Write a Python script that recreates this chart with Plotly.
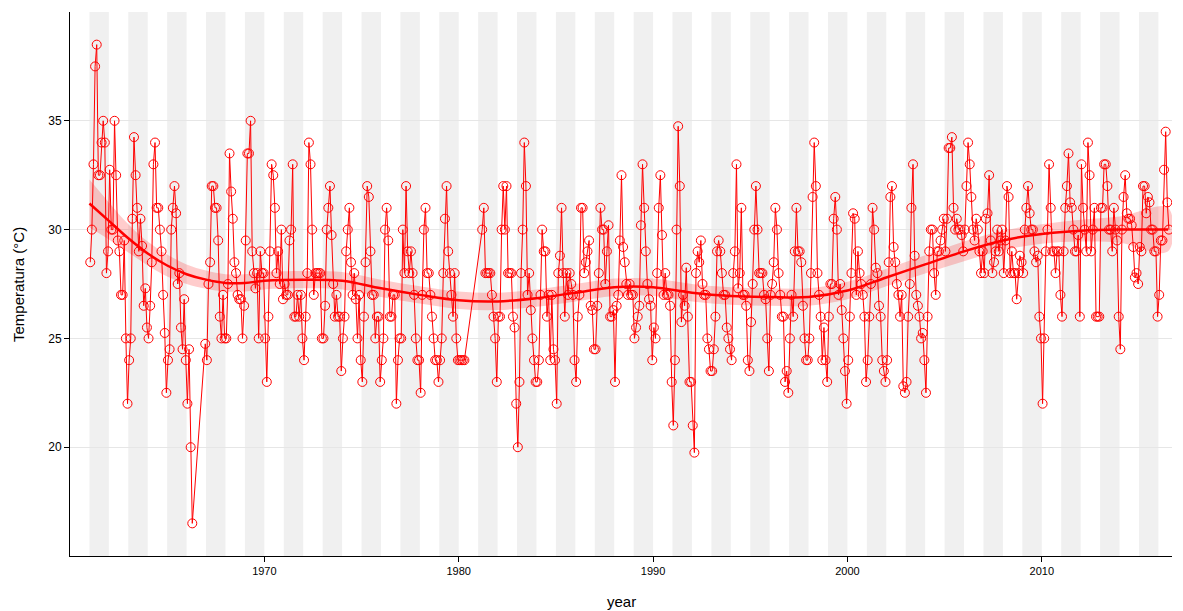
import plotly.graph_objects as go

# Monthly values (°C), one row of 12 per year; None = missing month
temps_1960s = [
    [28.5, 30, 33, 37.5, 38.5, 32.5, 32.5, 34, 35, 34, 28, 29],            # 1961
    [32.75, 30, 30, 35, 32.5, 29.5, 29, 27, 27, 29.5, 25, 22],            # 1962
    [24, 25, 30.5, 34.25, 32.5, 31, 29, 30.5, 29.25, 26.5, 27.3, 25.5],   # 1963
    [25, 26.5, 28.5, 33, 34, 31, 31, 30, 29, 27, 25.25, 22.5],            # 1964
    [24, 24.5, 30, 31, 32, 30.75, 27.5, 28, 25.5, 24.5, 26.8, 24],        # 1965
    [22, 24.5, 20, 16.5, None, None, None, None, None, None, None, 24.75],# 1966
    [24, 27.5, 28.5, 32, 32, 31, 31, 29.5, 26, 25, 27, 25],               # 1967
    [25, 27.5, 33.5, 31.75, 30.5, 28.5, 28, 27, 26.8, 26.8, 25, 26.5],    # 1968
    [29.5, 33.5, 33.5, 35, 29, 28, 27.3, 28, 25, 29, 28, 28],             # 1969
]
temps_1970s = [
    [25, 23, 26, 29, 33, 32.5, 31, 28, 29, 27.5, 30, 26.8],
    [27.5, 27, 27, 29.5, 30, 33, 26, 26, 27, 26, 27, 25],
    [24, 26, 28, 34, 33, 30, 27, 28, 28, 28, 28, 25],
    [25, 26.5, 30, 31, 32, 29.75, 27.5, 26, 27, 26, 26, 23.5],
    [25, 26, 29, 30, 31, 28.5, 27, 28, 26.8, 25, 27, 24],
    [23, 26, 28.5, 32, 31.5, 29, 27, 27, 25, 26, 26, 23],
    [24, 25, 30, 31, 29.5, 26, 26, 27, 27, 22, 24, 25],
    [25, 30, 28, 32, 29, 28, 29, 28, 27, 25, 24, 24],
    [22.5, 27, 30, 31, 28, 28, 27, 26, 25, 24, 24, 23],
    [24, 25, 28, 30.5, 32, 29, 28, 27, 26, 28, 25, 24],
]
temps_1980s = [
    [24, 24, 24, 24, None, None, None, None, None, None, None, None],
    [None, None, 30, 31, 28, 28, 28, 28, 27, 26, 25, 23],
    [26, 26, 30, 32, 30, 32, 28, 28, 28, 26, 25.5, 22],
    [20, 23, 28, 30, 34, 32, 27, 28, 26.3, 25, 24, 23],
    [23, 24, 27, 30, 29, 29, 26, 27, 24, 27, 24.5, 24],
    [22, 28, 28.8, 31, 28, 26, 28, 27, 28, 27.5, 27, 24],
    [23, 26, 27, 31, 31, 28, 28.5, 29, 29.5, 26.5, 26.3, 24.5],
    [24.5, 26.5, 28, 31, 30, 30, 27.5, 29, 30.2, 26, 26, 26.3],
    [23, 26.5, 27, 29.5, 32.5, 29.2, 28.5, 27.5, 27, 27.5, 27, 27],
    [25, 25.5, 26, 26.5, 30.2, 33, 31, 29, 27.5, 26.8, 26.5, 24],
]
temps_1990s = [
    [25.5, 25, 28, 31, 32.5, 29.75, 27, 28, 27, 27, 26.5, 23],
    [21, 24, 30, 34.75, 32, 25.75, 27, 26.5, 28.25, 26, 23, 23],
    [21, 19.75, 28, 29, 28.5, 29.5, 27.5, 27, 27, 25, 24.5, 23.5],
    [23.5, 24.5, 26, 29, 29.5, 29, 28, 27, 27, 25.5, 25, 24.5],
    [24, 28, 29, 33, 27.3, 28, 31, 27, 27, 26.5, 24, 23.5],
    [25.75, 27.5, 30, 32, 30, 28, 28, 28, 27, 26.8, 25, 23.5],
    [27, 27.5, 28.5, 31, 30, 28, 27, 26, 26, 23, 23.5, 22.5],
    [25, 27, 26, 29, 31, 29, 29, 28.5, 26.5, 25, 24, 24],
    [25, 28, 31.5, 34, 32, 28, 27, 26, 24, 25.5, 24, 23],
    [26, 27.5, 27.5, 30.5, 31.5, 30, 27, 27.5, 26.3, 25, 23.5, 22],
]
temps_2000s = [
    [24, 26, 28, 30.75, 30.5, 27, 29, 28, 27.5, 27, 26, 23],
    [24, 26, 27.5, 31, 30, 28.25, 28, 26.5, 26, 24, 23.5, 23],
    [24, 28.5, 31.5, 32, 29.2, 28.5, 27.5, 27, 26, 27, 22.8, 22.5],
    [23, 26, 27.5, 31, 33, 28.8, 27, 26.5, 26, 25, 25.25, 24],
    [22.5, 26, 29, 30, 30, 28, 27, 29, 29, 29.5, 30, 30.5],
    [29, 30.5, 33.75, 33.75, 34.25, 31, 30, 30.5, 30, 30, 29.75, 29],
    [30, 32, 34, 33, 31.5, 30, 29.5, 30.5, 30, 29, 28, 29],
    [28, 30.5, 30.75, 32.5, 29.5, 28, 28.5, 29, 30, 29, 29.5, 30],
    [28, 29.5, 32, 31.5, 28, 29, 28, 28, 26.8, 28, 28.8, 28.5],
    [28, 30, 31, 32, 30.75, 30, 30, 29, 28.5, 28.8, 26, 25],
]
temps_2010s = [
    [22, 25, 29, 30, 33, 31, 29, 29, 28, 29, 29, 27],
    [26, 29, 31, 32, 33.5, 31.25, 31, 30, 29, 29, 29.75, 26],
    [33, 31, 30, 29, 34, 32.5, 29, 30, 31, 26, 26, 26],
    [31, 31, 33, 33, 32, 30, 30, 29, 31, 30, 29.5, 26],
    [24.5, 30, 31.5, 32.5, 30.75, 30.5, 30.5, 30.2, 29.2, 27.8, 28, 27.5],
    [29.2, 29, 32, 32, 30.75, 31.5, 31.25, 30, 30, 29, 29, 26],
    [27, 29.5, 29.5, 32.75, 34.5, 31.25, 30],
]
first_years = [1961, 1970, 1980, 1990, 2000, 2010]

# Smoothed trend (loess) and its confidence half-width
smooth_year = [1961, 1962, 1963, 1964, 1965, 1966, 1967, 1968, 1969, 1970, 1972, 1974,
               1976, 1978, 1980, 1982, 1984, 1986, 1988, 1990, 1992, 1994, 1996, 1998,
               2000, 2002, 2004, 2006, 2008, 2010, 2012, 2014, 2016.5]
smooth_temp = [31.2, 30.4, 29.6, 28.9, 28.35, 27.95, 27.7, 27.55, 27.55, 27.65, 27.7, 27.65,
               27.3, 27.0, 26.75, 26.7, 26.85, 27.1, 27.35, 27.35, 27.1, 26.95, 26.9, 26.9,
               27.2, 27.8, 28.4, 29.0, 29.5, 29.8, 29.95, 30.0, 30.0]
smooth_se = [1.1, 0.85, 0.65, 0.55, 0.5, 0.45, 0.42, 0.4, 0.4, 0.4, 0.4, 0.4,
             0.4, 0.4, 0.4, 0.4, 0.4, 0.4, 0.4, 0.4, 0.4, 0.4, 0.4, 0.4,
             0.4, 0.4, 0.42, 0.45, 0.45, 0.45, 0.5, 0.6, 1.0]

shaded_years = list(range(1961, 2016, 2))
x_ticks = [1970, 1980, 1990, 2000, 2010]
y_ticks = [20, 25, 30, 35]

# Build the monthly series
xs, ys = [], []
for start, block in zip(first_years, [temps_1960s, temps_1970s, temps_1980s,
                                      temps_1990s, temps_2000s, temps_2010s]):
    for i, row in enumerate(block):
        for m, v in enumerate(row):
            if v is None:
                continue
            xs.append(start + i + (m + 0.5) / 12)
            ys.append(v)

RED = "#FF0000"
fig = go.Figure()

upper = [m + s for m, s in zip(smooth_temp, smooth_se)]
lower = [m - s for m, s in zip(smooth_temp, smooth_se)]
fig.add_trace(go.Scatter(x=smooth_year + smooth_year[::-1], y=upper + lower[::-1],
                         fill="toself", fillcolor="rgba(255,0,0,0.2)",
                         line=dict(width=0, shape="spline"), hoverinfo="skip",
                         showlegend=False))
fig.add_trace(go.Scatter(x=xs, y=ys, mode="lines+markers",
                         line=dict(color=RED, width=1),
                         marker=dict(symbol="circle-open", size=9, color=RED,
                                     line=dict(width=1, color=RED)),
                         showlegend=False))
fig.add_trace(go.Scatter(x=smooth_year, y=smooth_temp, mode="lines",
                         line=dict(color=RED, width=2.5, shape="spline"),
                         showlegend=False))

shapes = []
for y0 in shaded_years:
    shapes.append(dict(type="rect", xref="x", yref="paper", x0=y0, x1=y0 + 1,
                       y0=0, y1=1, fillcolor="#F0F0F0", line=dict(width=0),
                       layer="below"))

plot_h = 611 - 12 - 55
plot_w = 1183 - 70 - 11
annotations = [
    dict(text="year", xref="paper", yref="paper", x=0.5, y=-(601 - 556) / plot_h,
         xanchor="center", yanchor="middle", showarrow=False, font=dict(size=15)),
    dict(text="Temperatura (°C)", xref="paper", yref="paper", x=(18 - 70) / plot_w,
         y=0.5, xanchor="center", yanchor="middle", textangle=-90,
         showarrow=False, font=dict(size=15)),
]

fig.update_layout(
    width=1183, height=611,
    margin=dict(l=70, r=11, t=12, b=55, autoexpand=False),
    plot_bgcolor="white", paper_bgcolor="white",
    shapes=shapes, annotations=annotations,
    font=dict(family="Liberation Sans, Arial, sans-serif", color="black"),
    xaxis=dict(range=[1960, 2016.7], tickvals=x_ticks,
               ticktext=[str(t) for t in x_ticks],
               showgrid=False, zeroline=False, showline=True, linecolor="black",
               linewidth=1, ticks="outside", ticklen=5, tickcolor="black",
               tickfont=dict(size=11), automargin=False),
    yaxis=dict(range=[15, 40], tickvals=y_ticks,
               ticktext=[str(t) for t in y_ticks],
               showgrid=True, gridcolor="#E6E6E6", gridwidth=1, zeroline=False,
               showline=True, linecolor="black", linewidth=1,
               ticks="outside", ticklen=5, tickcolor="black",
               tickfont=dict(size=12), automargin=False),
)

fig.write_html("out.html")
